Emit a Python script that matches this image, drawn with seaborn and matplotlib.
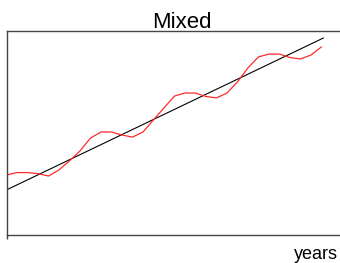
import numpy as np
import pandas as pd
import seaborn as sns
from matplotlib import pyplot as plt

# red series: every half year
years = [0.0, 0.5, 1.0, 1.5, 2.0, 2.5, 3.0, 3.5, 4.0, 4.5, 5.0, 5.5, 6.0, 6.5, 7.0,
         7.5, 8.0, 8.5, 9.0, 9.5, 10.0, 10.5, 11.0, 11.5, 12.0, 12.5, 13.0, 13.5,
         14.0, 14.5, 15.0]
mixed = [29.4, 30.6, 30.6, 30.1, 28.9, 31.9, 36.3, 41.2, 47.5, 50.5, 50.5, 49.0,
         48.0, 50.5, 56.4, 62.3, 68.1, 69.6, 69.6, 67.9, 67.2, 69.6, 75.0, 81.9,
         87.3, 88.7, 88.7, 87.0, 86.3, 88.2, 92.2]
# black trend line
trend_years = [0.0, 15.1]
trend = [22.1, 96.6]

df = pd.DataFrame({'years': years, 'value': mixed})
tr = pd.DataFrame({'years': trend_years, 'value': trend})

sns.set_style('white')
plt.rcParams['font.family'] = ['Liberation Sans', 'DejaVu Sans']
plt.rcParams['text.color'] = 'black'
plt.rcParams['axes.labelcolor'] = 'black'

fig = plt.figure(figsize=(3.40, 2.63), dpi=100)
ax = fig.add_axes([6.5 / 340, 28 / 263, 350 / 340, 204 / 263])

sns.lineplot(x='years', y='value', data=tr, color='black', lw=0.8, ax=ax)
sns.lineplot(x='years', y='value', data=df, color='#ff2a2a', lw=0.9, ax=ax)

ax.set_xlim(0, 16.67)
ax.set_ylim(0, 100)
ax.set_xticks([0])
ax.set_xticklabels([''])
ax.set_yticks([])
ax.tick_params(axis='x', direction='out', length=3, width=1, color='#444444', bottom=True)
ax.set_ylabel('')
for s in ['left', 'top', 'bottom']:
    ax.spines[s].set_color('#444444')
    ax.spines[s].set_linewidth(1)
ax.spines['right'].set_visible(False)

ax.set_title('Mixed', fontsize=16, pad=2.2, color='black')
ax.set_xlabel('years', fontsize=13, ha='right', color='black')
ax.xaxis.set_label_coords((338 - 6.5) / 350, -0.054)

fig.savefig('out.png', dpi=100)
